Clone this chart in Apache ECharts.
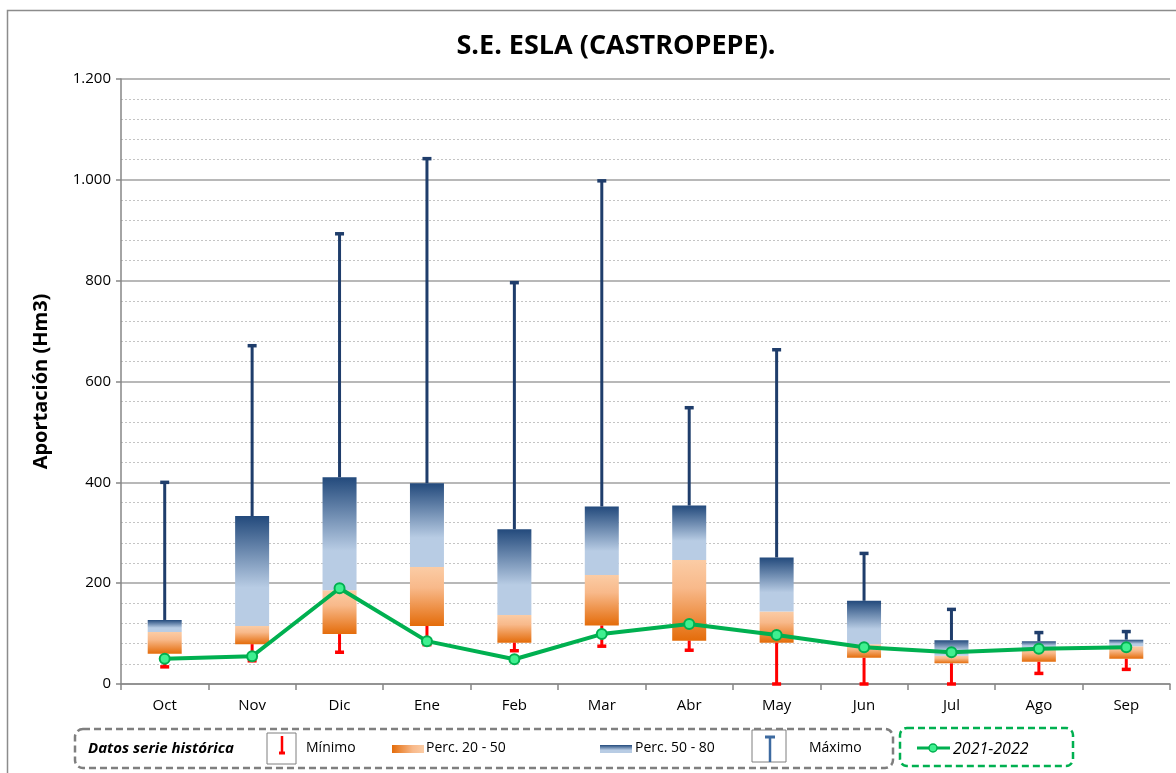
<!DOCTYPE html>
<html>
<head>
<meta charset="utf-8">
<title>S.E. ESLA (CASTROPEPE)</title>
<script src="https://cdn.jsdelivr.net/npm/echarts@6/dist/echarts.min.js"></script>
<style>
  html, body { margin: 0; padding: 0; background: #fff; }
  #chart { width: 1176px; height: 773px; }
</style>
</head>
<body>
<div id="chart"></div>
<script>
// datos (Hm3)
const meses = ['Oct', 'Nov', 'Dic', 'Ene', 'Feb', 'Mar', 'Abr', 'May', 'Jun', 'Jul', 'Ago', 'Sep']
const minimo = [34, 46, 63, 78, 66, 75, 67, 0, 0, 0, 21, 29]
const perc20 = [60, 79, 99, 115, 82, 116, 86, 82, 52, 41, 44, 50]
const perc50 = [103, 115, 186, 232, 137, 216, 246, 144, 79, 56, 71, 75]
const perc80 = [127, 333, 410, 398, 307, 352, 354, 251, 165, 87, 85, 88]
const maximo = [400, 671, 893, 1042, 796, 998, 548, 663, 259, 148, 102, 104]
const serie2122 = [50, 55, 190, 85, 49, 99, 119, 97, 73, 63, 70, 73]

const yMax = 1200
const yInterval = 200

const FONT = 'Open Sans'
const NAVY = '#1f3d6b'
const RED = '#ff0000'
const GREEN = '#00b050'

const orangeGrad = (x, y, x2, y2) => new echarts.graphic.LinearGradient(x, y, x2, y2, [
    { offset: 0, color: '#fbcca5' },
    { offset: 0.35, color: '#f8b98a' },
    { offset: 1, color: '#e46c0a' }
])
const blueGrad = (x, y, x2, y2) => new echarts.graphic.LinearGradient(x, y, x2, y2, [
    { offset: 0, color: '#234a7c' },
    { offset: 0.65, color: '#b8cce4' },
    { offset: 1, color: '#b8cce4' }
])

const fmtMiles = v => {
    const s = String(v)
    return s.length > 3 ? s.slice(0, -3) + '.' + s.slice(-3) : s
}

// bigote: línea vertical con remate (arriba o abajo)
const whisker = (color, capTop) => (params, api) => {
    const i = api.value(0)
    const lo = api.coord([i, api.value(1)])
    const hi = api.coord([i, api.value(2)])
    const cy = capTop ? hi[1] : lo[1]
    return {
        type: 'group',
        children: [
            { type: 'line', shape: { x1: lo[0], y1: lo[1], x2: hi[0], y2: hi[1] }, style: { stroke: color, lineWidth: 3 } },
            { type: 'line', shape: { x1: lo[0] - 4.5, y1: cy, x2: lo[0] + 4.5, y2: cy }, style: { stroke: color, lineWidth: 3.5 } }
        ]
    }
}

const chart = echarts.init(document.getElementById('chart'))

const legendText = (x, text, extra) => ({
    type: 'text', left: x, top: 741,
    style: Object.assign({ text, font: '14px "' + FONT + '"', fill: '#000' }, extra || {})
})

const option = {
    animation: false,
    title: {
        text: 'S.E. ESLA (CASTROPEPE).',
        left: 611, top: 28, textAlign: 'center',
        textStyle: { fontFamily: FONT, fontSize: 27, fontWeight: 'bold', color: '#000' }
    },
    grid: { left: 121, right: 6, top: 79, bottom: 89, containLabel: false },
    xAxis: {
        type: 'category',
        data: meses,
        axisLine: { lineStyle: { color: '#868686', width: 1.5 } },
        axisTick: { show: true, length: 6, lineStyle: { color: '#868686', width: 1.5 } },
        axisLabel: { margin: 14, fontFamily: FONT, fontSize: 15, color: '#000' }
    },
    yAxis: {
        type: 'value',
        min: 0, max: yMax, interval: yInterval,
        name: 'Aportación (Hm3)',
        nameLocation: 'middle',
        nameGap: 70,
        nameTextStyle: { fontFamily: FONT, fontSize: 20, fontWeight: 'bold', color: '#000' },
        axisLine: { show: true, lineStyle: { color: '#868686', width: 1.5 } },
        axisTick: { show: true, length: 5, lineStyle: { color: '#868686', width: 1.5 } },
        axisLabel: { margin: 10, fontFamily: FONT, fontSize: 15, color: '#000', formatter: fmtMiles },
        splitLine: { lineStyle: { color: '#a0a0a0', width: 1.5 } },
        minorTick: { show: false, splitNumber: 5 },
        minorSplitLine: { show: true, lineStyle: { color: '#c4c4c4', width: 1, type: [2, 2] } }
    },
    series: [
        {
            name: 'base', type: 'bar', stack: 'caja', barWidth: 34, silent: true, z: 2,
            itemStyle: { color: 'transparent' },
            data: perc20
        },
        {
            name: 'Perc. 20 - 50', type: 'bar', stack: 'caja', barWidth: 34, silent: true, z: 2,
            itemStyle: { color: orangeGrad(0, 0, 0, 1) },
            data: perc50.map((v, i) => v - perc20[i])
        },
        {
            name: 'Perc. 50 - 80', type: 'bar', stack: 'caja', barWidth: 34, silent: true, z: 2,
            itemStyle: { color: blueGrad(0, 0, 0, 1) },
            data: perc80.map((v, i) => v - perc50[i])
        },
        {
            name: 'Mínimo', type: 'custom', z: 3, silent: true,
            renderItem: whisker(RED, false),
            encode: { x: 0, y: [1, 2] },
            data: meses.map((m, i) => [i, minimo[i], perc20[i]])
        },
        {
            name: 'Máximo', type: 'custom', z: 3, silent: true,
            renderItem: whisker(NAVY, true),
            encode: { x: 0, y: [1, 2] },
            data: meses.map((m, i) => [i, perc80[i], maximo[i]])
        },
        {
            name: '2021-2022', type: 'line', z: 5,
            data: serie2122,
            symbol: 'circle', symbolSize: 10,
            lineStyle: { color: GREEN, width: 4 },
            itemStyle: { color: '#40f090', borderColor: GREEN, borderWidth: 2 }
        }
    ],
    graphic: [
        // marco exterior
        { type: 'rect', z: -1, shape: { x: 7.5, y: 10.5, width: 1300, height: 900 }, style: { fill: 'none', stroke: '#8c8c8c', lineWidth: 1.5 } },
        // leyenda serie histórica
        { type: 'rect', shape: { x: 75, y: 729, width: 818, height: 39, r: 8 }, style: { fill: '#fff', stroke: '#7f7f7f', lineWidth: 2.5, lineDash: [7, 4] } },
        legendText(88, 'Datos serie histórica', { font: 'italic bold 15px "' + FONT + '"', y: -1 }),
        { type: 'rect', shape: { x: 267, y: 733, width: 29, height: 31 }, style: { fill: '#fff', stroke: '#7f7f7f', lineWidth: 1 } },
        { type: 'line', shape: { x1: 282, y1: 736, x2: 282, y2: 753 }, style: { stroke: RED, lineWidth: 2.5 } },
        { type: 'line', shape: { x1: 279, y1: 753, x2: 285, y2: 753 }, style: { stroke: RED, lineWidth: 3 } },
        legendText(306, 'Mínimo'),
        { type: 'rect', shape: { x: 392, y: 745, width: 32, height: 8 }, style: { fill: orangeGrad(1, 0, 0, 0) } },
        legendText(426, 'Perc. 20 - 50'),
        { type: 'rect', shape: { x: 600, y: 745, width: 32, height: 8 }, style: { fill: blueGrad(0, 0, 0, 1) } },
        legendText(635, 'Perc. 50 - 80'),
        { type: 'rect', shape: { x: 752, y: 730, width: 34, height: 32 }, style: { fill: '#fff', stroke: '#7f7f7f', lineWidth: 1 } },
        { type: 'line', shape: { x1: 770, y1: 737, x2: 770, y2: 762 }, style: { stroke: '#3d6aa0', lineWidth: 2.5 } },
        { type: 'line', shape: { x1: 765, y1: 737, x2: 775, y2: 737 }, style: { stroke: '#3d6aa0', lineWidth: 3 } },
        legendText(809, 'Máximo'),
        // leyenda año actual
        { type: 'rect', shape: { x: 900, y: 728, width: 173, height: 38, r: 7 }, style: { fill: '#fff', stroke: GREEN, lineWidth: 2.5, lineDash: [7, 4] } },
        { type: 'line', shape: { x1: 917, y1: 748, x2: 950, y2: 748 }, style: { stroke: GREEN, lineWidth: 3 } },
        { type: 'circle', shape: { cx: 933, cy: 748, r: 4 }, style: { fill: '#40f090', stroke: GREEN, lineWidth: 1.5 } },
        legendText(953, '2021-2022', { font: 'italic 16px "' + FONT + '"', y: -1 })
    ]
}

chart.setOption(option)
</script>
</body>
</html>
